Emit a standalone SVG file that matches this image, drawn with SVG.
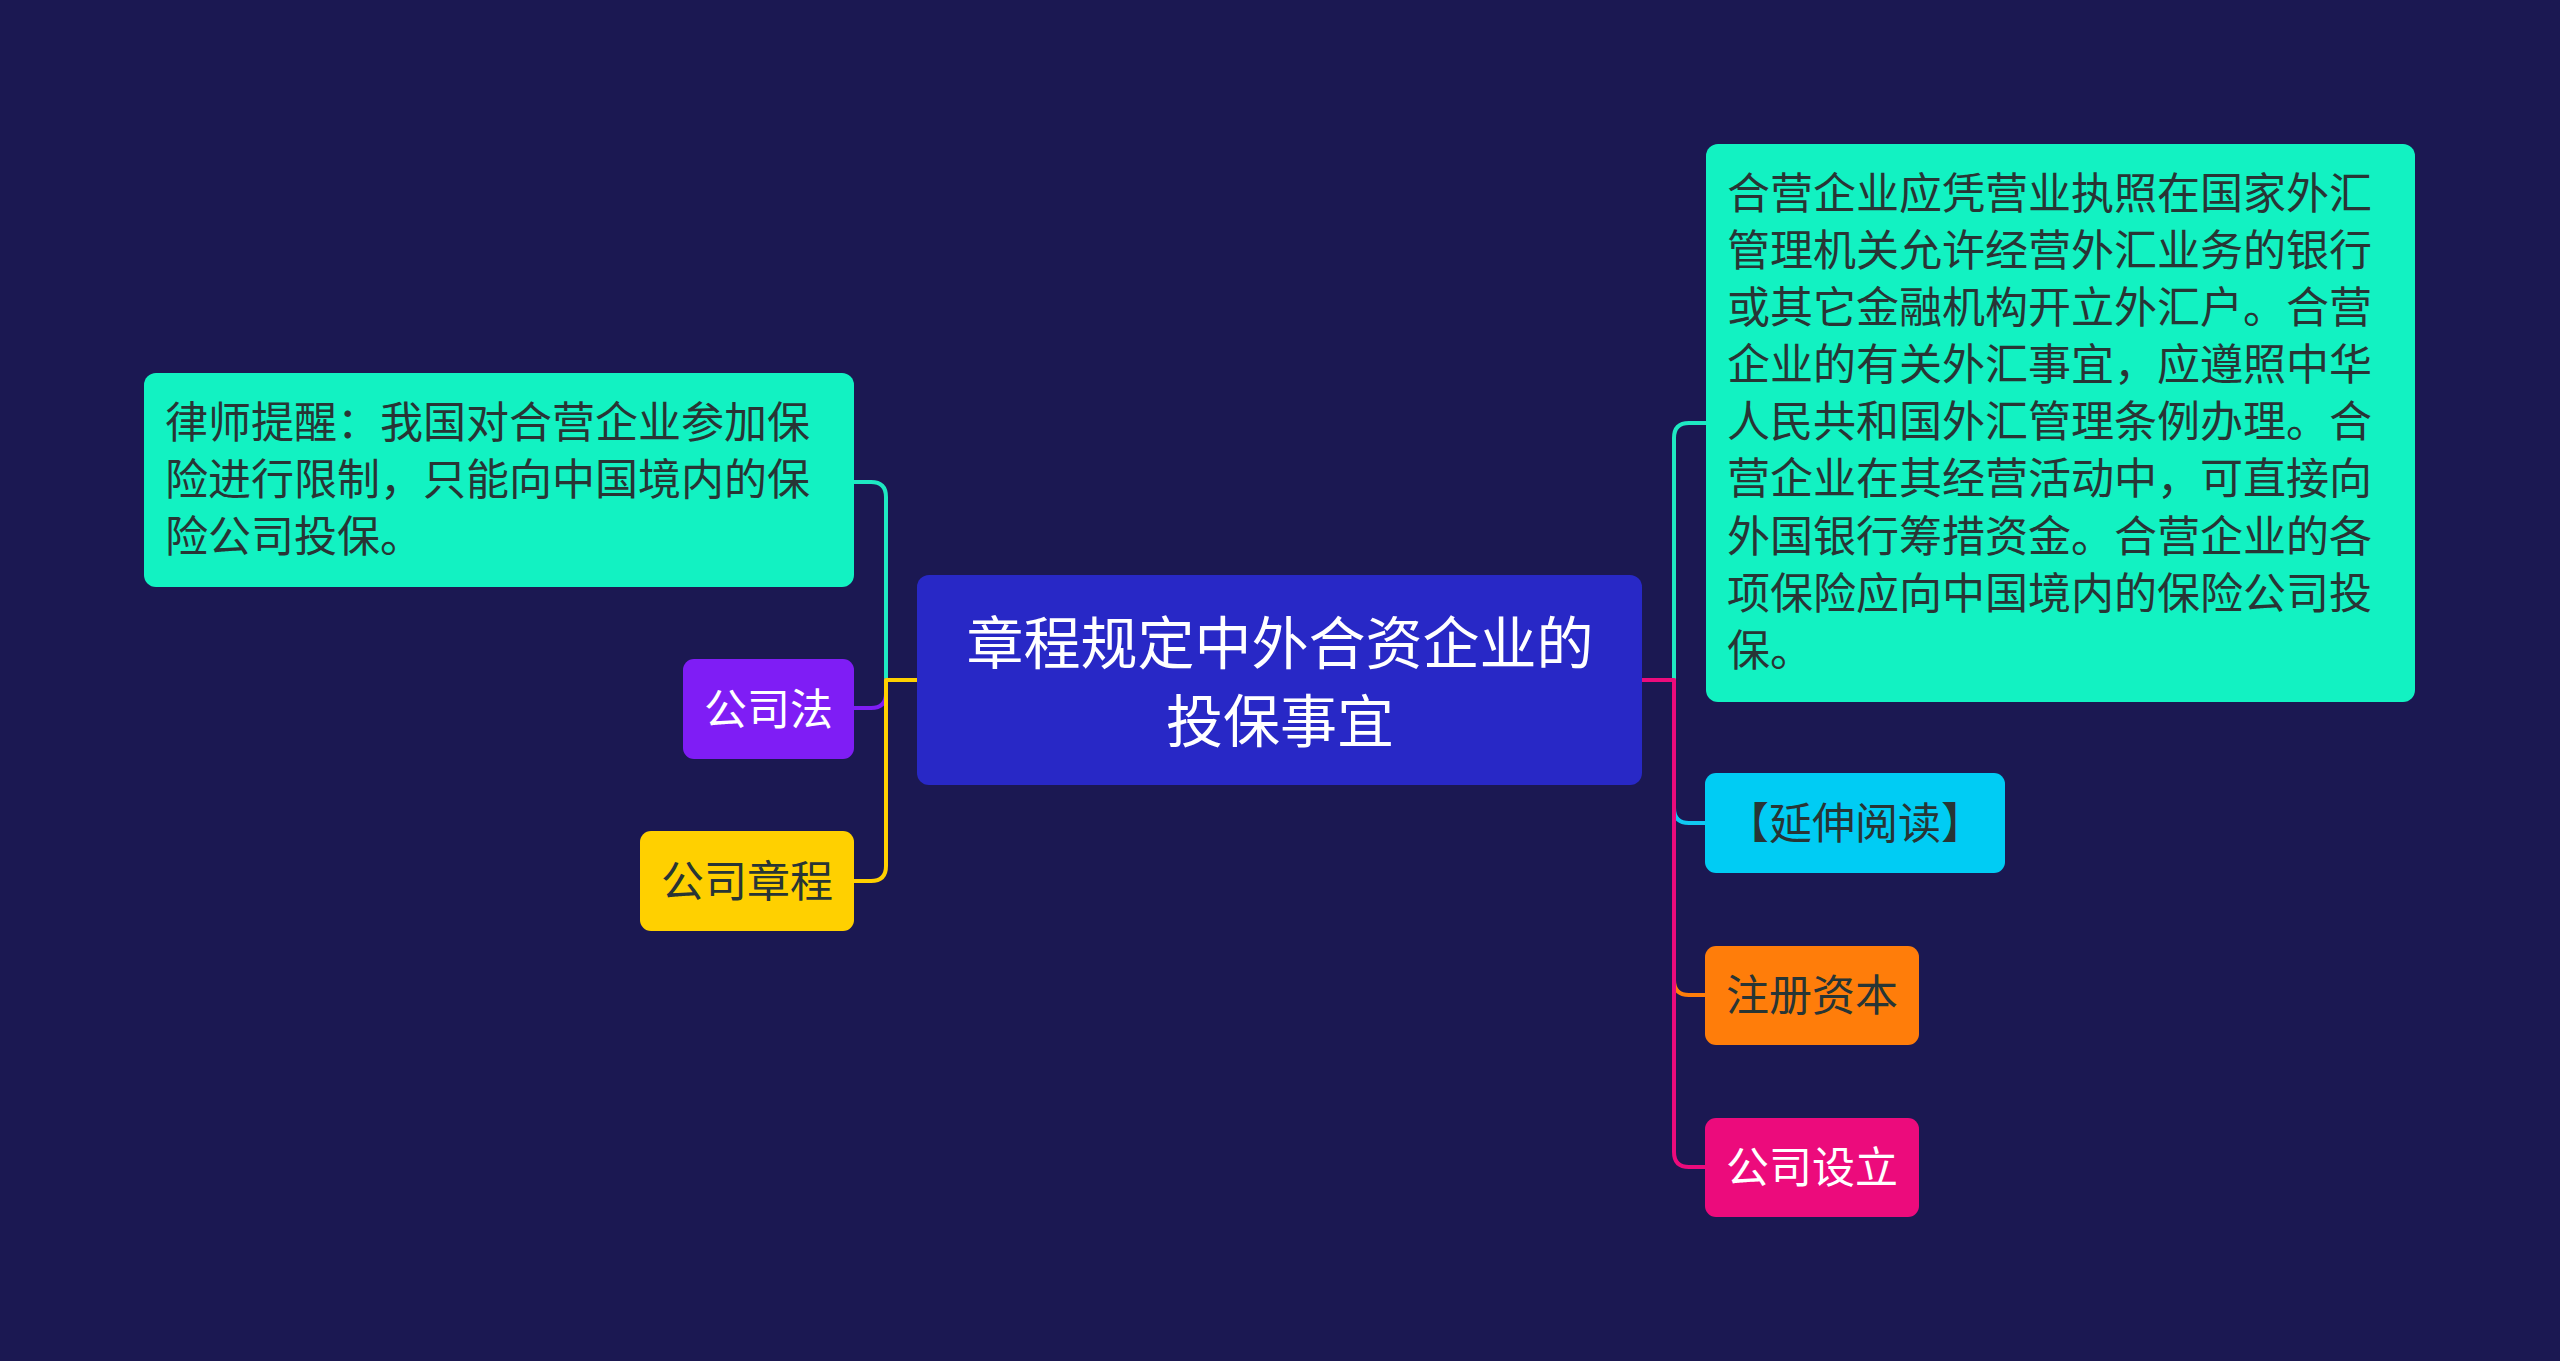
<svg xmlns="http://www.w3.org/2000/svg" width="2560" height="1361" viewBox="0 0 2560 1361">
<style>
.bg{fill:#1b1852}
.t{font-family:"Noto Sans CJK SC","Noto Sans",sans-serif;font-size:43px}
.c{text-anchor:middle}
.dark{fill:#283535}
.light{fill:#ffffff}
.ln{fill:none;stroke-width:4;stroke-linecap:round;stroke-linejoin:round}
</style>
<rect class="bg" x="0" y="0" width="2560" height="1361"/>
<g id="connectors">
<path class="ln" stroke="#1ee8c2" d="M917 680 H886 V497 Q886 482 871 482 H854"/>
<path class="ln" stroke="#7f1df5" d="M917 680 H886 V693 Q886 708 871 708 H854"/>
<path class="ln" stroke="#ffd000" d="M917 680 H886 V866 Q886 881 871 881 H854"/>
<path class="ln" stroke="#1ee8c2" d="M1642 680 H1674 V438 Q1674 423 1689 423 H1706"/>
<path class="ln" stroke="#10c8f2" d="M1642 680 H1674 V808 Q1674 823 1689 823 H1705"/>
<path class="ln" stroke="#ff7d0a" d="M1642 680 H1674 V980 Q1674 995 1689 995 H1705"/>
<path class="ln" stroke="#ec0b7c" d="M1642 680 H1674 V1152 Q1674 1167 1689 1167 H1705"/>
</g>
<g id="root">
<rect x="917" y="575" width="725" height="210" rx="12" fill="#2828c6"/>
<text class="t c light" style="font-size:57px" x="1280" y="664">章程规定中外合资企业的</text>
<text class="t c light" style="font-size:57px" x="1280" y="742">投保事宜</text>
</g>
<g id="n-reminder">
<rect x="144" y="373" width="710" height="214" rx="12" fill="#12f2c2"/>
<text class="t dark" x="165" y="438">律师提醒：我国对合营企业参加保</text>
<text class="t dark" x="165" y="495">险进行限制，只能向中国境内的保</text>
<text class="t dark" x="165" y="552">险公司投保。</text>
</g>
<g id="n-gongsifa">
<rect x="683" y="659" width="171" height="100" rx="11" fill="#7f1df5"/>
<text class="t c light" x="768.5" y="725">公司法</text>
</g>
<g id="n-zhangcheng">
<rect x="640" y="831" width="214" height="100" rx="11" fill="#ffd000"/>
<text class="t c dark" x="747" y="897">公司章程</text>
</g>
<g id="n-waihui">
<rect x="1706" y="144" width="709" height="558" rx="12" fill="#12f2c2"/>
<text class="t dark" x="1727" y="209">合营企业应凭营业执照在国家外汇</text>
<text class="t dark" x="1727" y="266">管理机关允许经营外汇业务的银行</text>
<text class="t dark" x="1727" y="323">或其它金融机构开立外汇户。合营</text>
<text class="t dark" x="1727" y="380">企业的有关外汇事宜，应遵照中华</text>
<text class="t dark" x="1727" y="437">人民共和国外汇管理条例办理。合</text>
<text class="t dark" x="1727" y="494">营企业在其经营活动中，可直接向</text>
<text class="t dark" x="1727" y="552">外国银行筹措资金。合营企业的各</text>
<text class="t dark" x="1727" y="609">项保险应向中国境内的保险公司投</text>
<text class="t dark" x="1727" y="666">保。</text>
</g>
<g id="n-yanshen">
<rect x="1705" y="773" width="300" height="100" rx="11" fill="#00ccf4"/>
<text class="t c dark" x="1855" y="839">【延伸阅读】</text>
</g>
<g id="n-zhuce">
<rect x="1705" y="946" width="214" height="99" rx="11" fill="#ff7d0a"/>
<text class="t c dark" x="1812" y="1011">注册资本</text>
</g>
<g id="n-sheli">
<rect x="1705" y="1118" width="214" height="99" rx="11" fill="#ec0b7c"/>
<text class="t c light" x="1812" y="1183">公司设立</text>
</g>
</svg>
